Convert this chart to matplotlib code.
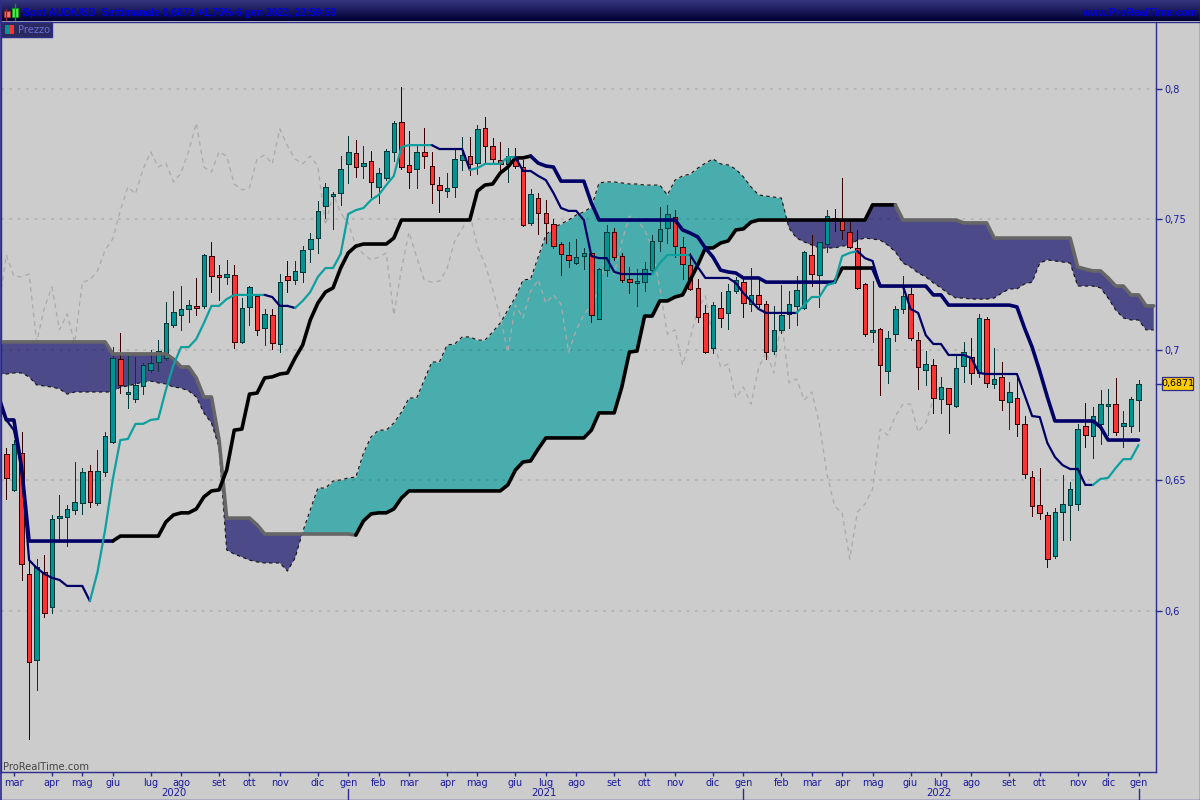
import numpy as np
import matplotlib
matplotlib.use("Agg")
import matplotlib.pyplot as plt
from matplotlib.lines import Line2D
from matplotlib.patches import Rectangle

# ---- weekly candles, AUD/USD, price x 10000 ----
opens = [6602,6464,6606,6142,5812,6149,6015,6357,6360,6387,6414,6536,6414,6533,6647,6965,6831,6812,6862,6923,
 6954,6969,7096,7134,7157,7169,7169,7360,7287,7280,7287,7031,7165,7207,7084,7134,7023,7283,7268,7299,
 7387,7429,7552,7590,7602,7713,7755,7705,7724,7625,7659,7759,7874,7709,7693,7759,7705,7632,7609,7625,
 7728,7743,7716,7850,7782,7728,7713,7732,7701,7487,7582,7525,7483,7406,7364,7333,7360,7372,7119,7306,
 7452,7360,7272,7257,7260,7306,7418,7467,7510,7395,7326,7238,7142,7008,7161,7142,7226,7260,7176,7211,
 7176,6996,7077,7138,7169,7161,7364,7287,7406,7506,7494,7452,7391,7253,7069,7081,6919,7061,7157,7215,
 7038,6923,6942,6812,6854,6785,6939,6973,6912,7119,6870,6897,6801,6816,6717,6513,6406,6368,6211,6379,
 6406,6410,6709,6670,6717,6785,6793,6709,6709,6808]
closes = [6510,6640,6180,5805,6168,5992,6353,6364,6391,6418,6533,6418,6536,6670,6969,6866,6839,6866,6942,6950,
 6996,7103,7146,7157,7173,7161,7364,7283,7280,7291,7031,7161,7241,7077,7138,7027,7260,7268,7303,7383,
 7425,7533,7625,7598,7693,7759,7701,7716,7644,7678,7762,7870,7701,7682,7759,7743,7636,7613,7621,7732,
 7747,7713,7847,7782,7732,7713,7743,7705,7479,7598,7525,7487,7398,7368,7345,7356,7372,7134,7310,7452,
 7356,7268,7260,7264,7310,7418,7464,7521,7398,7329,7234,7126,6992,7172,7123,7226,7268,7180,7211,7176,
 6992,7077,7134,7176,7230,7376,7291,7414,7513,7502,7460,7395,7238,7061,7077,6942,7046,7157,7207,7046,
 6935,6946,6816,6858,6793,6931,6992,6912,7123,6874,6889,6808,6839,6717,6525,6402,6375,6199,6379,6410,
 6467,6697,6674,6747,6793,6793,6686,6720,6812,6871]
highs = [6625,6655,6685,6207,6199,6215,6368,6444,6406,6571,6548,6559,6617,6685,7011,7065,6977,6973,6950,7000,
 7038,7184,7226,7245,7192,7276,7368,7414,7326,7345,7326,7199,7245,7215,7157,7157,7291,7341,7341,7398,
 7448,7571,7640,7605,7743,7820,7805,7782,7762,7697,7770,7877,8008,7839,7782,7850,7759,7663,7678,7774,
 7816,7816,7862,7893,7812,7797,7774,7774,7728,7617,7602,7575,7502,7414,7414,7425,7391,7372,7314,7479,
 7467,7372,7318,7310,7337,7441,7548,7556,7536,7433,7372,7272,7172,7184,7222,7253,7280,7276,7314,7268,
 7188,7169,7249,7226,7283,7379,7441,7414,7536,7540,7659,7494,7460,7257,7264,7084,7073,7169,7283,7238,
 7069,6996,6965,6897,6854,6985,7031,7046,7138,7126,7008,6954,6877,6897,6747,6536,6548,6379,6395,6521,
 6494,6717,6797,6782,6847,6851,6893,6766,6820,6885]
lows = [6429,6460,6119,5510,5697,5977,5992,6272,6249,6372,6372,6398,6406,6517,6644,6835,6778,6800,6831,6916,
 6919,6962,7088,7077,7107,7134,7161,7222,7192,7253,7008,7027,7096,7057,7019,7004,6992,7222,7253,7260,
 7337,7372,7506,7464,7556,7640,7663,7659,7586,7563,7651,7724,7693,7621,7621,7697,7563,7529,7586,7586,
 7690,7671,7674,7713,7716,7678,7644,7697,7475,7479,7444,7410,7391,7287,7318,7329,7310,7107,7119,7283,
 7345,7260,7218,7169,7226,7295,7379,7410,7356,7272,7230,7107,6989,6989,7088,7081,7218,7126,7149,7165,
 6965,6985,7065,7084,7096,7157,7245,7165,7376,7456,7425,7391,7234,7054,7031,6828,6874,7034,7142,7038,
 6851,6866,6759,6759,6682,6782,6877,6870,6897,6858,6854,6770,6697,6670,6510,6364,6353,6168,6203,6272,
 6272,6387,6628,6586,6640,6674,6674,6628,6686,6689]

# ---- ichimoku lines, price x 10000; first value belongs to the week before the first candle ----
kijun = [6820,6732,6732,6552]+[6268]*12+[6287]*6+[6341,6368,6376,6376,6391,6437,6460,6464,6540,6693,6697,6831,6835,
 6893,6897,6908,6912,6969,7019,7115,7180,7222,7238,7314,7372,7398,7406,7406,7406,7406,7429]+[7498]*10+[7609,7632,
 7636,7678,7701,7736,7736,7743,7716,7705,7701,7647,7647,7647,7647,7563]+[7498]*11+[7460,7448,7433,7391,7356,7306,
 7299,7295,7276,7276,7276]+[7260]*10+[7314]*5+[7245]*7+[7211,7211]+[7172]*9+[7165,7084,7011,6919,6820]+[6728]*6+[6705]+[6655]*5
tenkan = [6797,6732,6693,6552,6195,6165,6142,6127,6119,6096,6096,6096,6038,6149,6310,6502,6655,6659,6717,6717,6732,
 6736,6847,6942,7011,7011,7042,7103,7169,7169,7195,7211,7211,7211,7211,7211,7203,7169,7169,7161,7188,7222,7280,
 7314,7314,7368,7521,7536,7544,7575,7594,7632,7667,7778,7785,7785,7785,7785,7770,7770,7770,7770,7690,7697,7713,
 7713,7713,7739,7739,7686,7686,7667,7651,7602,7544,7533,7533,7498,7360,7352,7352,7299,7291,7291,7291,7291,7291,
 7333,7364,7364,7364,7364,7318,7276,7276,7276,7276,7257,7218,7188,7157,7142,7142,7142,7142,7142,7172,7203,7203,
 7249,7257,7360,7372,7379,7352,7341,7245,7245,7245,7245,7157,7142,7057,7023,7023,6981,6981,6981,6969,6912,6908,
 6908,6908,6908,6908,6828,6747,6743,6644,6590,6559,6544,6544,6483,6483,6506,6510,6548,6582,6582,6636]
span_b = [7031]*15+[6985]*8+[6965,6935,6935,6893,6820,6820,6655,6356,6356,6356,6356,6330]+[6295]*12+[6291,6345,6372,
 6376,6376,6391,6433]+[6460]*13+[6483,6540,6571,6575,6621]+[6663]*6+[6693,6759,6759,6759,6858,6992,6996,7130,7130,
 7188,7188,7203,7211,7268,7326,7391,7391,7410,7418,7460,7464,7490]+[7498]*15+[7556]*4+[7498]*8+[7487]*4+[7429]*11+[
 7318,7310,7303,7303,7276,7245,7245,7211,7211,7169,7169]
span_a = [6908,6908,6912,6912,6897,6866,6862,6858,6851,6831,6839,6839,6839,6839,6839,6839,6858,6862,6870,6877,6881,
 6874,6870,6858,6854,6843,6820,6759,6720,6628,6234,6218,6207,6195,6188,6184,6184,6184,6153,6203,6303,6387,6471,
 6471,6498,6502,6510,6513,6605,6667,6693,6693,6720,6762,6816,6816,6885,6954,6954,7019,7023,7050,7050,7038,7038,
 7069,7103,7153,7203,7268,7272,7356,7441,7467,7483,7498,7517,7529,7548,7640,7644,7644,7640,7636,7636,7632,7632,
 7632,7594,7651,7667,7674,7697,7716,7732,7713,7709,7693,7663,7625,7594,7590,7586,7582,7467,7429,7414,7402,7391,
 7391,7391,7398,7402,7421,7429,7425,7421,7402,7376,7333,7318,7295,7280,7257,7238,7215,7199,7199,7195,7195,7195,
 7199,7218,7234,7234,7253,7260,7333,7345,7341,7337,7333,7245,7245,7245,7238,7199,7153,7123,7115,7115,7077,7077]

# ---- axis labels ----
month_weeks = [1,6,10,14,19,23,28,32,36,41,45,49,53,58,62,67,71,75,80,84,88,93,97,102,106,110,114,119,123,127,132,136,141,145,149]
month_labels = ["mar","apr","mag","giu","lug","ago","set","ott","nov","dic","gen","feb",
                "mar","apr","mag","giu","lug","ago","set","ott","nov","dic","gen","feb",
                "mar","apr","mag","giu","lug","ago","set","ott","nov","dic","gen"]
year_labels = ["2020","2021","2022"]
year_weeks = [22,70.8,122.8]
year_starts = [45,97,149]
price_ticks = [0.6,0.65,0.7,0.75,0.8]
price_labels = ["0,6","0,65","0,7","0,75","0,8"]
last_price = 0.6871

# ---- styles ----
BG="#CCCCCC"; FRAME="#2B2B8C"; TXT="#1A1AA0"; NAVY="#000066"; TEAL_L="#0E9F9F"
W,H=1200,800
def fx(p): return p/W
def fy(p): return 1-p/H

to_price=lambda a: np.array(a,float)/1e4
O,C,Hi,Lo=map(to_price,(opens,closes,highs,lows))
weeks=np.arange(len(O))
kj,tk,sa,sb=map(to_price,(kijun,tenkan,span_a,span_b))
line_x=np.arange(-1,len(kj)-1)
cloud_x=np.arange(-1,len(sa)-1)
chikou=C[25:]
chikou_x=np.arange(-1,len(chikou)-1)

plt.rcParams['font.family']=['DejaVu Sans']
fig=plt.figure(figsize=(12,8),dpi=100,facecolor=BG)
ax=fig.add_axes([fx(1),fy(772),1155/W,750/H],facecolor=BG)
ax.set_xlim(-0.698,151.3)
ax.set_ylim(0.53831,0.82567)

# cloud
ax.fill_between(cloud_x,sa,sb,where=sa>=sb,interpolate=True,color="#4AADAD",lw=0,zorder=1)
ax.fill_between(cloud_x,sa,sb,where=sa<=sb,interpolate=True,color="#4D4A8A",lw=0,zorder=1)
ax.plot(cloud_x,sa,color="#111111",lw=0.8,dashes=(3,3),zorder=1.5)

# grid
for p in price_ticks:
    ax.plot(ax.get_xlim(),[p,p],color="black",alpha=0.11,lw=1.4,dashes=(1.4,2.9),zorder=1.6)

# chikou
ax.plot(chikou_x,chikou,color="#ABABAB",lw=0.95,dashes=(3.5,3),zorder=1.8)

# candles
up=C>=O
wick=np.where(up,"#003838","#380000")
ax.vlines(weeks,Lo,Hi,colors=wick,lw=0.72,zorder=2,antialiased=False)
ax.bar(weeks,np.maximum(np.abs(C-O),0.0004),bottom=np.minimum(O,C),width=0.6,
       color=np.where(up,"#009494","#FF3333"),edgecolor=wick,lw=0.72,zorder=2.1,antialiased=False)

def seg(x,y,a,b,c,lw,z):
    m=(x>=a)&(x<=b)
    ax.plot(x[m],y[m],color=c,lw=lw,zorder=z,solid_capstyle="round",solid_joinstyle="round")

# span B
for a,b,c in [(-1,46,"#666666"),(46,117,"#000000"),(117,151,"#666666")]:
    seg(cloud_x,sb,a,b,c,2.6,3)
# kijun
for a,b,c in [(-1,14,NAVY),(14,69,"#000000"),(69,109,NAVY),(109,114,"#000000"),(114,149,NAVY)]:
    seg(line_x,kj,a,b,c,2.6,3.2)
# tenkan
for a,b,c in [(-1,11,NAVY),(11,34,TEAL_L),(34,38,NAVY),(38,56,TEAL_L),(56,61,NAVY),(61,67,TEAL_L),
              (67,85,NAVY),(85,90,TEAL_L),(90,104,NAVY),(104,112,TEAL_L),(112,143,NAVY),(143,149,TEAL_L)]:
    seg(line_x,tk,a,b,c,1.6,3.4)

# axes
for s in ("top",): ax.spines[s].set_visible(False)
for s in ("left","right","bottom"):
    ax.spines[s].set_color(FRAME); ax.spines[s].set_linewidth(1.0)
ax.yaxis.tick_right()
ax.set_yticks(price_ticks); ax.set_yticklabels(price_labels)
ax.tick_params(axis="y",length=4.4,width=1,color=FRAME,labelcolor=TXT,labelsize=7,pad=1.5)
ax.set_xticks(month_weeks); ax.set_xticklabels(month_labels)
ax.tick_params(axis="x",length=2.8,width=1,color=FRAME,labelcolor=TXT,labelsize=7,pad=1.8)
trans=ax.get_xaxis_transform()
for lab,w in zip(year_labels,year_weeks):
    ax.text(w,-(793-772)/750,lab,transform=trans,ha="center",va="center",color=TXT,fontsize=7.2,clip_on=False)
for w in year_starts:
    ax.plot([w,w],[-(789-772)/750,-(799-772)/750],transform=trans,color=FRAME,lw=1,clip_on=False)

ax.text(fx(3),fy(767),"ProRealTime.com",transform=fig.transFigure,color="#444444",fontsize=7.2,va="center",ha="left")

# last-price box
ax.plot([1.0,1.0+6/1155],[last_price]*2,transform=ax.get_yaxis_transform(),color=FRAME,lw=1,clip_on=False)
fig.add_artist(Rectangle((fx(1162),fy(390)),31/W,13/H,transform=fig.transFigure,fc="#FFCC00",ec=FRAME,lw=0.9))
fig.text(fx(1177.5),fy(383.5),"0,6871",color="black",fontsize=6.8,ha="center",va="center")

# header band
hd=fig.add_axes([0,fy(21),1,21/H]); hd.axis("off")
g=np.linspace(0,1,21)[:,None,None]
top=np.array([0x35,0x35,0x80])/255; bot=np.array([0x00,0x00,0x33])/255
hd.imshow(top*(1-g)+bot*g,aspect="auto",extent=(0,1,0,1))
fig.add_artist(Line2D([0,1],[fy(21.5)]*2,color=FRAME,lw=1))
fig.add_artist(Line2D([fx(0.5)]*2,[0,1],color=FRAME,lw=1.2))
fig.add_artist(Line2D([fx(1199.5)]*2,[0,1],color=FRAME,lw=1))
fig.add_artist(Line2D([0,1],[fy(799.5)]*2,color=FRAME,lw=1))
hf=dict(family="Liberation Sans",weight="bold",color="#0000E6",fontsize=7.5,va="center")
fig.text(fx(23),fy(12.5),"Spot AUD/USD  Settimanale 0,6871 +1,75% 6 gen 2023, 22:59:59",ha="left",**hf)
fig.text(fx(1197),fy(12.5),"www.ProRealTime.com",ha="right",**hf)
# icon
fig.add_artist(Line2D([fx(6)]*2,[fy(9),fy(20)],color="#992222",lw=1))
fig.add_artist(Rectangle((fx(3.5),fy(17)),6/W,6/H,fc="#EE7777",ec="#993333",lw=0.7))
fig.add_artist(Line2D([fx(14.5)]*2,[fy(4),fy(20)],color="#119911",lw=1))
fig.add_artist(Rectangle((fx(11.5),fy(16.5)),6/W,9/H,fc="#55EE55",ec="#119911",lw=0.7))

# legend tab
fig.add_artist(Rectangle((fx(1),fy(37)),51/W,15/H,fc="#2A2A5E",ec=FRAME,lw=1))
fig.add_artist(Rectangle((fx(5),fy(34)),4.5/W,9/H,fc="#009494",lw=0))
fig.add_artist(Rectangle((fx(9.5),fy(34)),4.5/W,9/H,fc="#FF3333",lw=0))
fig.text(fx(18),fy(29.8),"Prezzo",color="#6A6AE0",fontsize=7.2,va="center",ha="left")

fig.savefig("out.png",dpi=100,facecolor=BG)
